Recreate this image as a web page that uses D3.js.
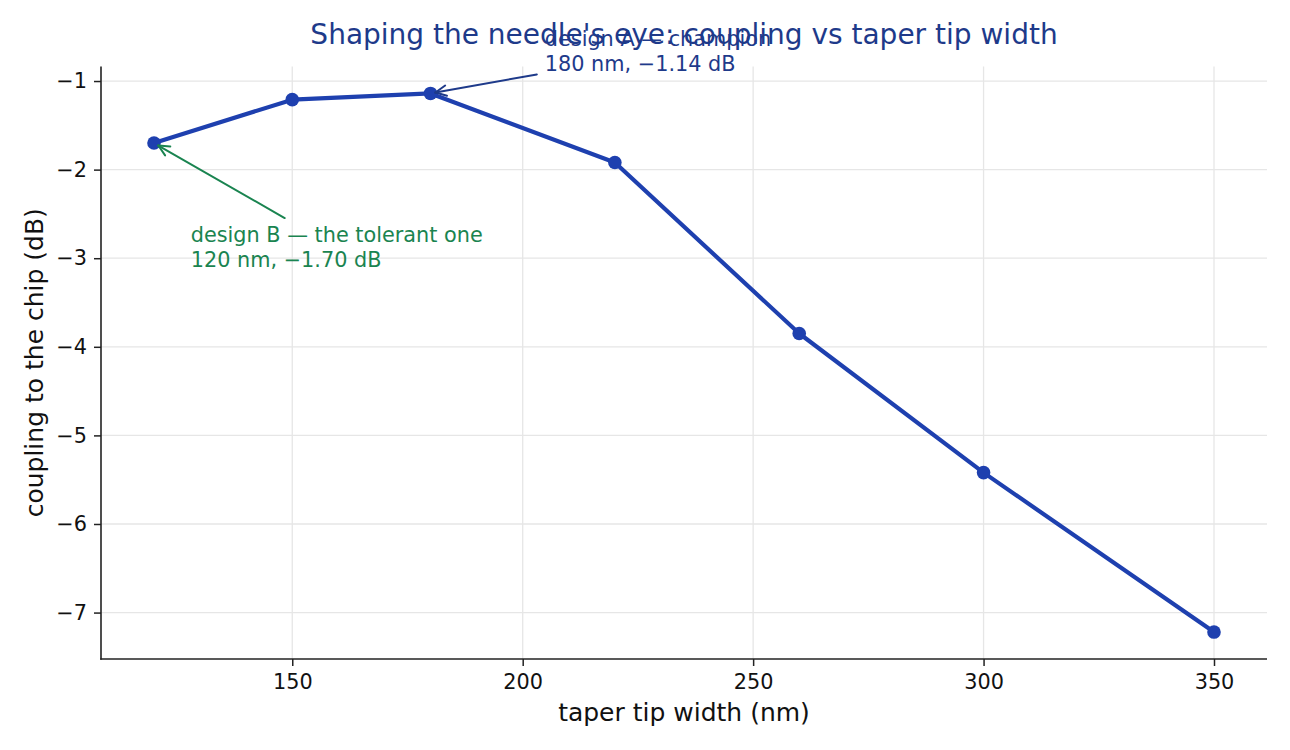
<!DOCTYPE html>
<html>
<head>
<meta charset="utf-8">
<script src="https://cdn.jsdelivr.net/npm/d3@7"></script>
<style>
  html, body { margin: 0; padding: 0; background: #fff; }
  svg { display: block; font-family: "DejaVu Sans", sans-serif; }
</style>
</head>
<body>
<svg id="chart" width="1290" height="750"></svg>
<script>
// ---- data ----
const tipWidths = [120, 150, 180, 220, 260, 300, 350];
const coupling = [-1.70, -1.21, -1.14, -1.92, -3.85, -5.42, -7.22];
const xTicks = [150, 200, 250, 300, 350];
const yTicks = [-1, -2, -3, -4, -5, -6, -7];
const titleText = "Shaping the needle's eye: coupling vs taper tip width";
const xLabel = "taper tip width (nm)";
const yLabel = "coupling to the chip (dB)";
const annotA = { x: 180, y: -1.14, lines: ["design A \u2014 champion", "180 nm, \u22121.14 dB"] };
const annotB = { x: 120, y: -1.70, lines: ["design B \u2014 the tolerant one", "120 nm, \u22121.70 dB"] };

// ---- layout ----
const W = 1290, H = 750;
const m = { left: 101, right: 1267, top: 66.5, bottom: 659 };
const lineColor = "#1e40af";
const navy = "#1e3a8a";
const green = "#1a8450";

const svg = d3.select("#chart");

const xMin = d3.min(tipWidths), xMax = d3.max(tipWidths);
const xPad = (xMax - xMin) * 0.05;
const yMin = d3.min(coupling), yMax = d3.max(coupling);
const yPad = (yMax - yMin) * 0.05;

const x = d3.scaleLinear().domain([xMin - xPad, xMax + xPad]).range([m.left, m.right]);
const y = d3.scaleLinear().domain([yMin - yPad, yMax + yPad]).range([m.bottom, m.top]);

// grid
const grid = svg.append("g");
grid.selectAll("line.gx").data(xTicks).join("line")
  .attr("x1", d => x(d)).attr("x2", d => x(d))
  .attr("y1", m.top).attr("y2", m.bottom)
  .attr("stroke", "#e6e6e6").attr("stroke-width", 1.3);
grid.selectAll("line.gy").data(yTicks).join("line")
  .attr("y1", d => y(d)).attr("y2", d => y(d))
  .attr("x1", m.left).attr("x2", m.right)
  .attr("stroke", "#e6e6e6").attr("stroke-width", 1.3);

// axes
const xAxis = d3.axisBottom(x).tickValues(xTicks).tickSize(7).tickPadding(7)
  .tickFormat(d3.format("d"));
const yAxis = d3.axisLeft(y).tickValues(yTicks).tickSize(7).tickPadding(7)
  .tickFormat(d => "\u2212" + Math.abs(d));

const gx = svg.append("g").attr("transform", `translate(0,${m.bottom})`).call(xAxis);
const gy = svg.append("g").attr("transform", `translate(${m.left},0)`).call(yAxis);
[gx, gy].forEach(g => {
  g.select(".domain").remove();
  g.selectAll(".tick line").attr("stroke", "#222").attr("stroke-width", 1.5);
  g.selectAll(".tick text").attr("fill", "#111").style("font-size", "20.8px")
    .style("font-family", "DejaVu Sans");
});
gx.selectAll(".tick text").attr("dy", "0.76em");

// spines (left & bottom only)
svg.append("line").attr("x1", m.left).attr("x2", m.left)
  .attr("y1", m.top).attr("y2", m.bottom + 0.75)
  .attr("stroke", "#222").attr("stroke-width", 1.6);
svg.append("line").attr("x1", m.left - 0.75).attr("x2", m.right)
  .attr("y1", m.bottom).attr("y2", m.bottom)
  .attr("stroke", "#222").attr("stroke-width", 1.6);

// series line
const pts = tipWidths.map((w, i) => [w, coupling[i]]);
svg.append("path").datum(pts)
  .attr("d", d3.line().x(d => x(d[0])).y(d => y(d[1])))
  .attr("fill", "none").attr("stroke", lineColor).attr("stroke-width", 4.2)
  .attr("stroke-linejoin", "round").attr("stroke-linecap", "butt");
svg.append("g").selectAll("circle").data(pts).join("circle")
  .attr("cx", d => x(d[0])).attr("cy", d => y(d[1])).attr("r", 6.8)
  .attr("fill", lineColor);

// title
svg.append("text").attr("x", (m.left + m.right) / 2).attr("y", 44)
  .attr("text-anchor", "middle").attr("fill", navy)
  .style("font-size", "28px").text(titleText);

// axis labels
svg.append("text").attr("x", (m.left + m.right) / 2).attr("y", 721)
  .attr("text-anchor", "middle").attr("fill", "#111")
  .style("font-size", "25px").text(xLabel);
svg.append("text").attr("transform", `translate(43,${(m.top + m.bottom) / 2}) rotate(-90)`)
  .attr("text-anchor", "middle").attr("fill", "#111")
  .style("font-size", "25px").text(yLabel);

// annotations
function arrow(x0, y0, x1, y1, color, shrink) {
  const dx = x1 - x0, dy = y1 - y0, L = Math.hypot(dx, dy);
  const ux = dx / L, uy = dy / L;
  const ex = x1 - ux * shrink, ey = y1 - uy * shrink;
  const g = svg.append("g").attr("stroke", color).attr("stroke-width", 2).attr("fill", "none")
    .attr("stroke-linecap", "round");
  g.append("line").attr("x1", x0).attr("y1", y0).attr("x2", ex).attr("y2", ey);
  const hl = 12, ang = 0.45;
  const a = Math.atan2(-uy, -ux);
  [a + ang, a - ang].forEach(t => {
    g.append("line").attr("x1", ex).attr("y1", ey)
      .attr("x2", ex + hl * Math.cos(t)).attr("y2", ey + hl * Math.sin(t));
  });
}
function annotate(a, color, dxText, dyText, arrowStart) {
  const px = x(a.x), py = y(a.y);
  const tx = px + dxText, ty = py + dyText;
  const t = svg.append("text").attr("fill", color).style("font-size", "20.8px");
  a.lines.forEach((ln, i) => {
    t.append("tspan").attr("x", tx).attr("y", ty + i * 25).text(ln);
  });
  arrow(tx + arrowStart[0], ty + arrowStart[1], px, py, color, 5);
}
annotate(annotB, green, 36.7, 99, [94, -24]);
annotate(annotA, navy, 114.3, -47, [-8, 28]);
</script>
</body>
</html>
